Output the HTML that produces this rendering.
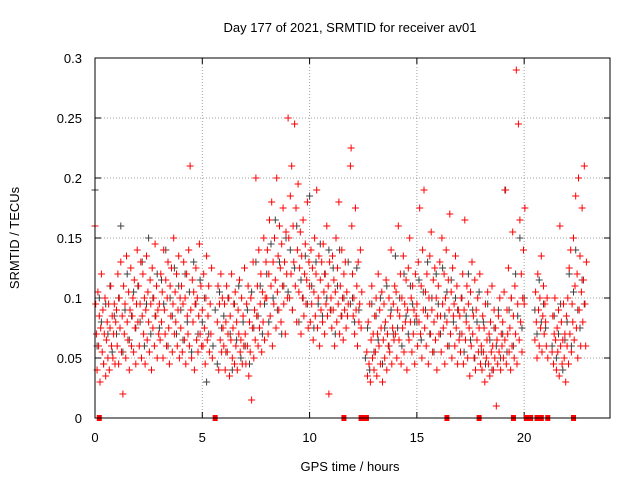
<!DOCTYPE html>
<html>
<head>
<meta charset="utf-8">
<style>
html,body{margin:0;padding:0;background:#fff;}
svg{display:block;font-family:"Liberation Sans",sans-serif;}
</style>
</head>
<body>
<svg id="chart" width="640" height="480" viewBox="0 0 640 480">
  <rect x="0" y="0" width="640" height="480" fill="#fff"/>
  <text x="350" y="32" text-anchor="middle" font-size="13" fill="#000">Day 177 of 2021, SRMTID for receiver av01</text>
  <text x="0" y="0" transform="translate(19,238) rotate(-90)" text-anchor="middle" font-size="13" fill="#000">SRMTID / TECUs</text>
  <text x="350" y="471" text-anchor="middle" font-size="13" fill="#000">GPS time / hours</text>
  <g id="grid"></g>
  <g id="ticks"></g>
  <g id="gray-series"></g>
  <g id="red-series"></g>
  <g id="zero-series"></g>
  <rect x="95" y="58" width="515" height="360" fill="none" stroke="#000" stroke-width="1"/>
</svg>
<script>
// values in milli-TECU, red: 30 per hour (2-minute steps); gray: 10 per hour (6-minute steps)
const xTicks = [0, 5, 10, 15, 20];
const yTicks = [0, 0.05, 0.1, 0.15, 0.2, 0.25, 0.3];
const yTickLabels = ["0", "0.05", "0.1", "0.15", "0.2", "0.25", "0.3"];
const redMilli = [
160,95,70,40,105,60,85,30,75,120,55,90,45,70,100,35,65,80,50,95,40,75,110,60,85,50,70,95,45,80,
90,60,120,45,100,75,130,55,85,20,110,70,95,50,135,80,65,105,40,90,125,60,85,100,55,115,75,45,95,140,
80,110,60,95,130,50,85,120,70,100,45,90,135,65,105,80,55,115,95,40,125,75,100,60,145,85,110,50,90,70,
95,65,120,80,105,50,140,90,70,115,60,100,130,75,45,110,85,125,55,95,150,70,105,80,120,60,90,135,50,100,
75,110,55,95,130,65,100,45,120,85,70,140,60,210,90,50,115,80,105,40,95,125,65,100,55,85,145,70,110,60,
90,60,120,75,45,100,135,65,85,110,55,95,70,125,50,null,null,null,null,null,null,80,110,40,95,65,120,55,100,75,
60,95,40,80,110,55,70,100,35,85,65,120,50,75,95,45,105,60,80,40,90,70,115,55,65,100,45,85,60,125,
70,45,95,60,110,35,80,55,100,15,75,130,50,90,65,200,85,110,60,140,75,95,120,55,105,80,150,65,100,130,
100,140,70,120,165,85,110,180,60,130,95,150,115,75,200,105,135,90,160,125,80,145,110,175,95,130,70,155,120,100,
250,150,100,185,120,210,90,160,130,245,110,175,80,140,195,105,125,155,70,135,100,165,85,120,145,95,115,180,75,130,
110,80,140,95,125,65,105,150,85,120,190,75,100,135,60,115,90,130,80,145,105,70,120,95,160,85,110,20,130,90,
100,75,135,90,115,60,105,150,80,125,95,180,70,110,85,140,100,65,120,90,130,75,105,85,95,null,null,210,225,160,
120,85,100,70,175,90,110,60,130,80,95,140,75,105,null,null,null,null,null,null,55,35,80,45,95,30,65,110,50,70,
40,85,55,100,35,70,120,60,90,45,75,105,30,65,95,50,80,115,40,70,60,100,55,85,140,45,75,95,65,110,
70,105,50,90,160,65,85,120,45,100,75,135,55,95,80,115,40,90,125,65,150,80,100,55,110,70,90,45,120,85,
95,60,130,80,175,70,110,50,140,90,190,75,105,60,120,85,45,100,135,70,155,90,55,115,80,125,65,100,40,85,
110,70,130,85,55,150,95,75,120,45,100,140,80,60,115,90,170,70,105,50,125,85,95,60,135,75,110,45,90,65,
85,55,100,70,120,45,90,165,65,80,110,50,95,75,35,105,60,130,70,85,50,115,40,90,65,100,55,75,120,45,
60,40,85,55,75,30,95,50,65,105,45,70,35,80,55,110,60,40,90,50,75,10,65,45,85,55,100,40,70,60,
80,50,105,65,190,45,90,70,125,55,75,40,100,60,155,85,50,110,70,290,45,95,245,65,165,80,120,55,100,140,
95,175,null,null,null,null,null,null,null,null,null,null,null,null,null,65,105,80,50,120,90,60,100,75,135,55,85,110,70,95,
80,60,100,50,null,null,null,null,null,55,85,45,70,100,65,40,75,55,90,35,160,60,80,45,65,95,50,70,30,85,
60,100,45,125,70,140,55,95,80,150,65,110,185,75,120,50,200,90,135,60,105,175,80,115,210,95,60,130,null,null
];
const grayMilli = [
190,60,100,80,45,95,70,110,55,85,
70,100,160,55,90,120,65,85,105,75,
110,80,130,60,95,150,70,100,85,120,
75,115,95,140,60,100,85,125,70,110,
90,65,120,80,105,55,130,95,70,115,
80,100,30,70,null,60,90,45,105,75,
85,55,100,70,40,95,65,110,50,80,
60,90,45,105,75,130,85,110,70,95,
120,80,145,100,165,90,130,70,110,150,
105,140,90,125,160,80,115,100,135,95,
185,110,75,130,95,145,85,120,100,140,
90,125,70,110,140,85,100,null,130,95,
100,80,125,90,null,null,50,75,40,95,
55,85,65,100,45,75,110,60,90,70,
135,75,100,60,120,85,70,110,95,80,
80,115,65,105,90,130,70,100,55,120,
95,70,125,85,105,60,115,80,100,90,
70,100,55,85,120,65,90,50,80,105,
55,80,45,95,65,40,75,60,90,50,
70,190,55,90,100,60,120,85,150,75,
100,null,null,null,null,90,70,115,80,95,
75,null,null,60,85,50,70,95,40,65,
80,120,60,105,140,90,75,115,95,null
];
const zeroTimes = [0.2, 5.6, 11.6, 12.4, 12.55, 12.65, 16.4, 17.9, 19.5, 20.1, 20.2, 20.3, 20.6, 20.7, 20.8, 21.1, 22.3];
const redPerHour = 30;
const grayPerHour = 10;

const NS = "http://www.w3.org/2000/svg";
const X0 = 95, X1 = 610, Y0 = 418, Y1 = 58, XMAX = 24, YMAX = 0.3;
function xScale(h){ return X0 + (h / XMAX) * (X1 - X0); }
function yScale(v){ return Y0 - (v / YMAX) * (Y0 - Y1); }

const grid = document.getElementById('grid');
const ticks = document.getElementById('ticks');
xTicks.forEach(function(t){
  const x = xScale(t);
  if (t > 0) {
    const g = document.createElementNS(NS, 'line');
    g.setAttribute('x1', x); g.setAttribute('x2', x); g.setAttribute('y1', Y1); g.setAttribute('y2', Y0);
    g.setAttribute('stroke', '#a0a0a0'); g.setAttribute('stroke-dasharray', '1,2');
    
    
    grid.appendChild(g);
  }
  const tk = document.createElementNS(NS, 'line');
  tk.setAttribute('x1', x); tk.setAttribute('x2', x); tk.setAttribute('y1', Y0); tk.setAttribute('y2', Y0 - 6);
  tk.setAttribute('stroke', '#000');
  
  
  ticks.appendChild(tk);
  const tk2 = document.createElementNS(NS, 'line');
  tk2.setAttribute('x1', x); tk2.setAttribute('x2', x); tk2.setAttribute('y1', Y1); tk2.setAttribute('y2', Y1 + 6);
  tk2.setAttribute('stroke', '#000');
  
  
  ticks.appendChild(tk2);
  const lb = document.createElementNS(NS, 'text');
  lb.setAttribute('x', x); lb.setAttribute('y', Y0 + 24); lb.setAttribute('text-anchor', 'middle');
  lb.setAttribute('font-size', '13');
  lb.textContent = String(t);
  
  
  ticks.appendChild(lb);
});
yTicks.forEach(function(t, i){
  const y = yScale(t);
  if (t > 0 && t < YMAX) {
    const g = document.createElementNS(NS, 'line');
    g.setAttribute('x1', X0); g.setAttribute('x2', X1); g.setAttribute('y1', y); g.setAttribute('y2', y);
    g.setAttribute('stroke', '#a0a0a0'); g.setAttribute('stroke-dasharray', '1,2');
    
    
    grid.appendChild(g);
  }
  const tk = document.createElementNS(NS, 'line');
  tk.setAttribute('x1', X0); tk.setAttribute('x2', X0 + 6); tk.setAttribute('y1', y); tk.setAttribute('y2', y);
  tk.setAttribute('stroke', '#000');
  
  
  ticks.appendChild(tk);
  const tk2 = document.createElementNS(NS, 'line');
  tk2.setAttribute('x1', X1); tk2.setAttribute('x2', X1 - 6); tk2.setAttribute('y1', y); tk2.setAttribute('y2', y);
  tk2.setAttribute('stroke', '#000');
  
  
  ticks.appendChild(tk2);
  const lb = document.createElementNS(NS, 'text');
  lb.setAttribute('x', X0 - 13); lb.setAttribute('y', y + 5); lb.setAttribute('text-anchor', 'end');
  lb.setAttribute('font-size', '13');
  lb.textContent = yTickLabels[i];
  
  
  ticks.appendChild(lb);
});

function plusPath(vals, perHour){
  let d = '';
  vals.forEach(function(v, i){
    if (v === null) return;
    const x = xScale(i / perHour), y = yScale(v / 1000);
    d += 'M' + (x - 3.5).toFixed(1) + ' ' + y.toFixed(1) + 'h7M' + x.toFixed(1) + ' ' + (y - 3.5).toFixed(1) + 'v7';
  });
  return d;
}
const gp = document.createElementNS(NS, 'path');
gp.setAttribute('d', plusPath(grayMilli, grayPerHour));
gp.setAttribute('stroke', '#404040'); gp.setAttribute('stroke-width', '1'); gp.setAttribute('fill', 'none');


document.getElementById('gray-series').appendChild(gp);

const rp = document.createElementNS(NS, 'path');
rp.setAttribute('d', plusPath(redMilli, redPerHour));
rp.setAttribute('stroke', '#ff0000'); rp.setAttribute('stroke-width', '1'); rp.setAttribute('fill', 'none');


document.getElementById('red-series').appendChild(rp);

const zg = document.getElementById('zero-series');
zeroTimes.forEach(function(t){
  const r = document.createElementNS(NS, 'rect');
  r.setAttribute('x', xScale(t) - 2.5); r.setAttribute('y', yScale(0) - 3);
  r.setAttribute('width', 5); r.setAttribute('height', 6); r.setAttribute('fill', '#ff0000');
  
  
  zg.appendChild(r);
});
</script>
</body>
</html>
